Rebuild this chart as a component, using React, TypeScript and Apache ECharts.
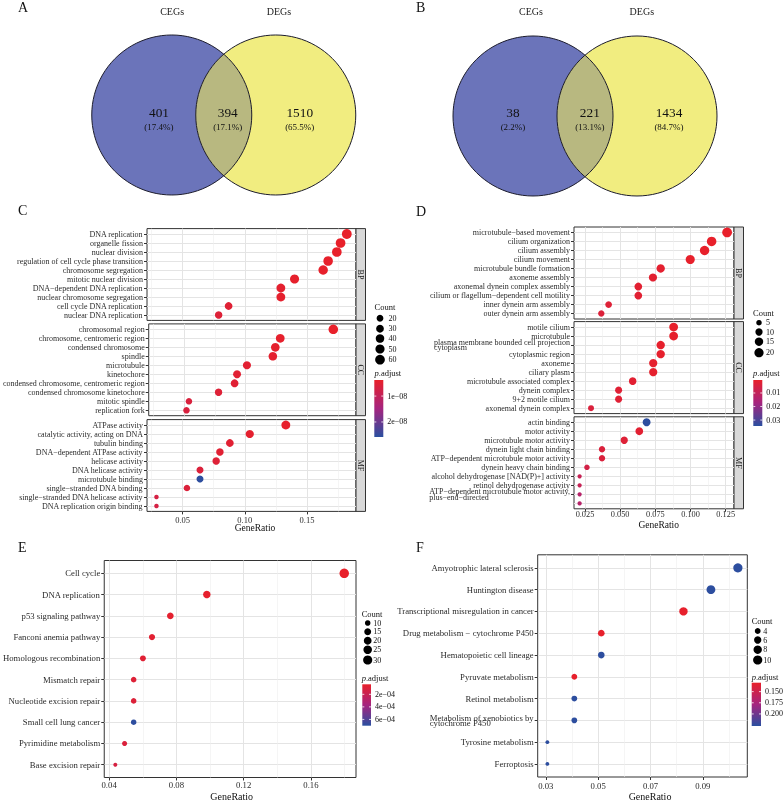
import React, { useEffect, useRef } from "react";
import * as echarts from "echarts";

const M = "\u2212";
const FONT = "Liberation Serif, Times New Roman, serif";

// ---------- Venn data ----------
const vennSetNames = ["CEGs", "DEGs"];
const vennACounts = [401, 394, 1510];
const vennAPercents = ["(17.4%)", "(17.1%)", "(65.5%)"];
const vennBCounts = [38, 221, 1434];
const vennBPercents = ["(2.2%)", "(13.1%)", "(84.7%)"];

// ---------- Panel C (GO, CEGs∩DEGs) ----------
const cBPTerms = ["DNA replication", "organelle fission", "nuclear division", "regulation of cell cycle phase transition", "chromosome segregation", "mitotic nuclear division", `DNA${M}dependent DNA replication`, "nuclear chromosome segregation", "cell cycle DNA replication", "nuclear DNA replication"];
const cBPRatio = [0.182, 0.177, 0.174, 0.167, 0.163, 0.140, 0.129, 0.129, 0.087, 0.079];
const cBPCount = [62, 60, 59, 57, 56, 48, 44, 44, 30, 27];
const cBPPadj = [3.8e-9, 3.8e-9, 3.8e-9, 3.9e-9, 3.9e-9, 4.1e-9, 4.4e-9, 4.3e-9, 5.2e-9, 5.6e-9];

const cCCTerms = ["chromosomal region", "chromosome, centromeric region", "condensed chromosome", "spindle", "microtubule", "kinetochore", "condensed chromosome, centromeric region", "condensed chromosome kinetochore", "mitotic spindle", "replication fork"];
const cCCRatio = [0.171, 0.128, 0.124, 0.122, 0.101, 0.093, 0.091, 0.078, 0.054, 0.052];
const cCCCount = [58, 43, 42, 41, 34, 32, 31, 26, 18, 18];
const cCCPadj = [3.8e-9, 4.2e-9, 4.3e-9, 4.4e-9, 4.8e-9, 5.0e-9, 5.1e-9, 5.5e-9, 6.2e-9, 6.4e-9];

const cMFTerms = ["ATPase activity", "catalytic activity, acting on DNA", "tubulin binding", `DNA${M}dependent ATPase activity`, "helicase activity", "DNA helicase activity", "microtubule binding", `single${M}stranded DNA binding`, `single${M}stranded DNA helicase activity`, "DNA replication origin binding"];
const cMFRatio = [0.133, 0.104, 0.088, 0.080, 0.077, 0.064, 0.064, 0.0535, 0.029, 0.029];
const cMFCount = [45, 35, 30, 27, 26, 22, 22, 18, 10, 10];
const cMFPadj = [4.0e-9, 4.5e-9, 5.0e-9, 5.0e-9, 5.5e-9, 6.0e-9, 2.55e-8, 6.0e-9, 7.0e-9, 7.0e-9];

// ---------- Panel D ----------
const dBPTerms = [`microtubule${M}based movement`, "cilium organization", "cilium assembly", "cilium movement", "microtubule bundle formation", "axoneme assembly", "axonemal dynein complex assembly", `cilium or flagellum${M}dependent cell motility`, "inner dynein arm assembly", "outer dynein arm assembly"];
const dBPRatio = [0.126, 0.115, 0.110, 0.0998, 0.0788, 0.0733, 0.0629, 0.0629, 0.0418, 0.0366];
const dBPCount = [24, 22, 21, 19, 15, 14, 12, 12, 8, 7];
const dBPPadj = [0.0005, 0.0005, 0.0006, 0.0006, 0.0015, 0.0018, 0.0020, 0.0022, 0.0030, 0.0035];

const dCCTerms = ["motile cilium", "microtubule", "plasma membrane bounded cell projection\ncytoplasm", "cytoplasmic region", "axoneme", "ciliary plasm", "microtubule associated complex", "dynein complex", "9+2 motile cilium", "axonemal dynein complex"];
const dCCRatio = [0.088, 0.088, 0.0788, 0.0788, 0.0735, 0.0735, 0.0589, 0.0489, 0.0489, 0.0293];
const dCCCount = [17, 17, 15, 15, 14, 14, 11, 9, 9, 6];
const dCCPadj = [0.0006, 0.0008, 0.0010, 0.0010, 0.0012, 0.0012, 0.0020, 0.0025, 0.0025, 0.0040];

const dMFTerms = ["actin binding", "motor activity", "microtubule motor activity", "dynein light chain binding", `ATP${M}dependent microtubule motor activity`, "dynein heavy chain binding", "alcohol dehydrogenase [NAD(P)+] activity", "retinol dehydrogenase activity", `ATP${M}dependent microtubule motor activity,\nplus${M}end${M}directed`, "dynein intermediate chain binding"];
const dMFRatio = [0.0688, 0.0636, 0.0529, 0.0371, 0.0371, 0.0264, 0.0212, 0.0212, 0.0212, 0.0212];
const dMFCount = [13, 12, 10, 7, 7, 5, 4, 4, 4, 4];
const dMFPadj = [0.0340, 0.0020, 0.0030, 0.0040, 0.0040, 0.0060, 0.0090, 0.0090, 0.0130, 0.0130];

// ---------- Panel E (KEGG) ----------
const eTerms = ["Cell cycle", "DNA replication", "p53 signaling pathway", "Fanconi anemia pathway", "Homologous recombination", "Mismatch repair", "Nucleotide excision repair", "Small cell lung cancer", "Pyrimidine metabolism", "Base excision repair"];
const eRatio = [0.1798, 0.0981, 0.0764, 0.0655, 0.0601, 0.0546, 0.0546, 0.0546, 0.0492, 0.0437];
const eCount = [33, 18, 14, 12, 11, 10, 10, 10, 9, 8];
const ePadj = [4.0e-5, 5.0e-5, 6.0e-5, 7.0e-5, 8.0e-5, 9.0e-5, 1.0e-4, 6.9e-4, 1.1e-4, 1.3e-4];

// ---------- Panel F (KEGG) ----------
const fTerms = ["Amyotrophic lateral sclerosis", "Huntington disease", "Transcriptional misregulation in cancer", `Drug metabolism ${M} cytochrome P450`, "Hematopoietic cell lineage", "Pyruvate metabolism", "Retinol metabolism", "Metabolism of xenobiotics by\ncytochrome P450", "Tyrosine metabolism", "Ferroptosis"];
const fRatio = [0.1034, 0.0931, 0.0826, 0.0512, 0.0512, 0.0409, 0.0409, 0.0409, 0.0306, 0.0306];
const fCount = [10, 9, 8, 5, 5, 4, 4, 4, 3, 3];
const fPadj = [0.226, 0.226, 0.131, 0.131, 0.226, 0.131, 0.226, 0.226, 0.226, 0.226];

// ---------- tick values ----------
const cXTicks = [0.05, 0.1, 0.15];
const cXMinor = [0.025, 0.075, 0.125, 0.175];
const dXTicks = [0.025, 0.05, 0.075, 0.1, 0.125];
const dXMinor = [0.0375, 0.0625, 0.0875, 0.1125];
const eXTicks = [0.04, 0.08, 0.12, 0.16];
const eXMinor = [0.06, 0.1, 0.14, 0.18];
const fXTicks = [0.03, 0.05, 0.07, 0.09];
const fXMinor = [0.04, 0.06, 0.08, 0.1];

const cCountBreaks = [20, 30, 40, 50, 60];
const dCountBreaks = [5, 10, 15, 20];
const eCountBreaks = [10, 15, 20, 25, 30];
const fCountBreaks = [4, 6, 8, 10];

const cPadjBreaks = [1e-8, 2e-8];
const cPadjLabels = [`1e${M}08`, `2e${M}08`];
const dPadjBreaks = [0.01, 0.02, 0.03];
const dPadjLabels = ["0.01", "0.02", "0.03"];
const ePadjBreaks = [2e-4, 4e-4, 6e-4];
const ePadjLabels = [`2e${M}04`, `4e${M}04`, `6e${M}04`];
const fPadjBreaks = [0.15, 0.175, 0.2];
const fPadjLabels = ["0.150", "0.175", "0.200"];

// ---------- styles ----------
const STOPS = ["#E8202A", "#A5247F", "#2A4FA0"];
const VENN_BLUE = "#6B74BA";
const VENN_YELLOW = "#F1ED80";
const VENN_OVERLAP = "#B8B880";
const GRID_MAJOR = "#E4E4E4";
const GRID_MINOR = "#EEEEEE";
const AXIS_TEXT = "#2b2b2b";
const VS = 80; // px per Venn unit
const VENN_R = 1;
const VENN_HALF_D = 0.65;

function sizeScale(cmin: number, cmax: number, dmin: number, dmax: number) {
  return (c: number) => dmin + (dmax - dmin) * Math.sqrt(Math.max(0, (c - cmin) / (cmax - cmin)));
}

function buildOption() {
  const grid: any[] = [];
  const xAxis: any[] = [];
  const yAxis: any[] = [];
  const series: any[] = [];
  const visualMap: any[] = [];
  const graphic: any[] = [];

  const txt = (x: number, y: number, text: string, size: number, o: any = {}) => ({
    type: "text",
    x,
    y,
    rotation: o.rotation || 0,
    silent: true,
    style: {
      text,
      fontSize: size,
      fontFamily: FONT,
      fill: o.fill || "#111",
      align: o.align || "left",
      verticalAlign: "middle",
      rich: o.rich,
    },
  });

  // ---- Venn ----
  function addVenn(cx: number, cy: number, counts: number[], pcts: string[], lab: any) {
    const gi = grid.length;
    grid.push({ left: cx - 2 * VS, top: cy - 1.4 * VS, width: 4 * VS, height: 2.8 * VS, show: false });
    const xi = xAxis.length;
    xAxis.push({ gridIndex: gi, type: "value", min: -2, max: 2, show: false });
    const yi = yAxis.length;
    yAxis.push({ gridIndex: gi, type: "value", min: -1.4, max: 1.4, show: false });
    series.push({
      type: "custom",
      coordinateSystem: "cartesian2d",
      xAxisIndex: xi,
      yAxisIndex: yi,
      silent: true,
      data: [[0, 0]],
      renderItem: (_p: any, api: any) => {
        const c1 = api.coord([-VENN_HALF_D, 0]);
        const c2 = api.coord([VENN_HALF_D, 0]);
        const r = api.size([VENN_R, 0])[0];
        const d = c2[0] - c1[0];
        const xm = (c1[0] + c2[0]) / 2;
        const h = Math.sqrt(r * r - (d * d) / 4);
        const y = c1[1];
        const lens = `M${xm} ${y - h}A${r} ${r} 0 0 1 ${xm} ${y + h}A${r} ${r} 0 0 1 ${xm} ${y - h}Z`;
        const children: any[] = [
          { type: "circle", shape: { cx: c1[0], cy: c1[1], r }, style: { fill: VENN_BLUE } },
          { type: "circle", shape: { cx: c2[0], cy: c2[1], r }, style: { fill: VENN_YELLOW } },
          { type: "path", shape: { pathData: lens }, style: { fill: VENN_OVERLAP } },
          { type: "circle", shape: { cx: c1[0], cy: c1[1], r }, style: { fill: "none", stroke: "#1c1c2c", lineWidth: 1 } },
          { type: "circle", shape: { cx: c2[0], cy: c2[1], r }, style: { fill: "none", stroke: "#1c1c2c", lineWidth: 1 } },
        ];
        counts.forEach((n, i) => {
          const p = api.coord([lab.numX[i], lab.numY]);
          const q = api.coord([lab.numX[i], lab.pctY]);
          children.push({ type: "text", x: p[0], y: p[1], style: { text: String(n), fontSize: 13.3, fontFamily: FONT, fill: "#111", align: "center", verticalAlign: "middle" } });
          children.push({ type: "text", x: q[0], y: q[1], style: { text: pcts[i], fontSize: 9, fontFamily: FONT, fill: "#111", align: "center", verticalAlign: "middle" } });
        });
        vennSetNames.forEach((s, i) => {
          const p = api.coord([lab.setX[i], lab.setY]);
          children.push({ type: "text", x: p[0], y: p[1], style: { text: s, fontSize: 10, fontFamily: FONT, fill: "#222", align: "center", verticalAlign: "middle" } });
        });
        return { type: "group", children };
      },
    });
  }

  addVenn(223.75, 115, vennACounts, vennAPercents, { numX: [-0.81, 0.05, 0.95], numY: 0.03, pctY: -0.15, setX: [-0.645, 0.69], setY: 1.3 });
  addVenn(585, 116, vennBCounts, vennBPercents, { numX: [-0.9, 0.06, 1.05], numY: 0.04, pctY: -0.14, setX: [-0.675, 0.71], setY: 1.31 });

  // ---- dot panels ----
  function addDot(o: any) {
    const gi = grid.length;
    grid.push({ left: o.left, top: o.top, width: o.width, height: o.height, show: true, borderColor: "#333333", borderWidth: 1, backgroundColor: "transparent" });
    const xi = xAxis.length;
    xAxis.push({
      gridIndex: gi,
      type: "value",
      min: o.xMin,
      max: o.xMax,
      position: "bottom",
      axisLine: { show: false, onZero: false },
      axisTick: { show: o.showX, customValues: o.ticks, length: 3, lineStyle: { color: "#333", width: 1 } },
      axisLabel: {
        show: o.showX,
        customValues: o.ticks,
        formatter: (v: number) => v.toFixed(o.decimals),
        fontFamily: FONT,
        fontSize: o.tickSize,
        color: AXIS_TEXT,
        margin: o.xMargin,
      },
      splitLine: { show: true, lineStyle: { color: GRID_MAJOR, width: 1 } },
    });
    xAxis.push({
      gridIndex: gi,
      type: "value",
      min: o.xMin,
      max: o.xMax,
      position: "bottom",
      offset: 0,
      axisLine: { show: false, onZero: false },
      axisTick: { show: false, customValues: o.minor },
      axisLabel: { show: false, customValues: o.minor },
      splitLine: { show: true, lineStyle: { color: GRID_MINOR, width: 0.6 } },
    });
    const yi = yAxis.length;
    const idx = o.terms.map((_t: string, i: number) => i);
    yAxis.push({
      gridIndex: gi,
      type: "value",
      min: -0.6,
      max: o.terms.length - 0.4,
      inverse: true,
      axisLine: { show: false, onZero: false },
      axisTick: { show: true, customValues: idx, length: 3, lineStyle: { color: "#333", width: 1 } },
      axisLabel: {
        customValues: idx,
        formatter: (v: number) => {
          const t: string = o.terms[Math.round(v)] || "";
          return t.split("\n").map((s) => `{l|${s}}`).join("\n");
        },
        fontFamily: FONT,
        fontSize: o.labelSize,
        color: AXIS_TEXT,
        margin: 4,
        rich: { l: { align: "left", fontFamily: FONT, fontSize: o.labelSize, color: AXIS_TEXT, lineHeight: 5.7 } },
      },
      splitLine: { show: true, lineStyle: { color: GRID_MAJOR, width: 1 } },
    });
    const si = series.length;
    series.push({
      type: "scatter",
      xAxisIndex: xi,
      yAxisIndex: yi,
      silent: true,
      z: 3,
      data: o.terms.map((_t: string, i: number) => [o.ratio[i], i, o.count[i], o.padj[i]]),
      symbolSize: (val: number[]) => o.sizeFn(val[2]),
      itemStyle: { opacity: 1 },
    });
    if (o.strip) {
      graphic.push({ type: "rect", silent: true, shape: { x: o.left + o.width, y: o.top, width: 9.5, height: o.height }, style: { fill: "#D9D9D9", stroke: "#333", lineWidth: 1 } });
      graphic.push(txt(o.left + o.width + 4.75, o.top + o.height / 2, o.strip, 8, { align: "center", rotation: -Math.PI / 2, fill: "#1a1a1a" }));
    }
    return si;
  }

  function addLegend(o: any) {
    graphic.push(txt(o.x, o.countY, "Count", 8.5));
    o.breaks.forEach((b: number, i: number) => {
      graphic.push({ type: "circle", silent: true, shape: { cx: o.dotX, cy: o.dotYs[i], r: o.sizeFn(b) / 2 }, style: { fill: "#000" } });
      graphic.push(txt(o.labX, o.dotYs[i], String(b), 8));
    });
    graphic.push(txt(o.x, o.pY, "{i|p}{n|.adjust}", 8.5, { rich: { i: { fontStyle: "italic", fontSize: 8.5, fontFamily: FONT, fill: "#111" }, n: { fontSize: 8.5, fontFamily: FONT, fill: "#111" } } }));
    graphic.push({
      type: "rect",
      silent: true,
      shape: { x: o.bar[0], y: o.bar[1], width: o.bar[2], height: o.bar[3] },
      style: {
        fill: {
          type: "linear", x: 0, y: 0, x2: 0, y2: 1,
          colorStops: [
            { offset: 0, color: STOPS[0] },
            { offset: 0.5, color: STOPS[1] },
            { offset: 1, color: STOPS[2] },
          ],
        },
      },
    });
    o.pBreaks.forEach((b: number, i: number) => {
      const y = o.bar[1] + ((b - o.pMin) / (o.pMax - o.pMin)) * o.bar[3];
      graphic.push({ type: "line", silent: true, shape: { x1: o.bar[0], y1: y, x2: o.bar[0] + 2, y2: y }, style: { stroke: "#fff", lineWidth: 0.8 } });
      graphic.push({ type: "line", silent: true, shape: { x1: o.bar[0] + o.bar[2] - 2, y1: y, x2: o.bar[0] + o.bar[2], y2: y }, style: { stroke: "#fff", lineWidth: 0.8 } });
      graphic.push(txt(o.bar[0] + o.bar[2] + 4, y, o.pLabels[i], 8));
    });
  }

  // Panel C
  const cSize = sizeScale(10, 62, 4.5, 9.8);
  const cOpts = { left: 147, width: 209, height: 91.8, xMin: 0.0214, xMax: 0.1894, ticks: cXTicks, minor: cXMinor, decimals: 2, labelSize: 8, tickSize: 8.5, xMargin: 4.3, sizeFn: cSize };
  const c1 = addDot({ ...cOpts, top: 228.6, terms: cBPTerms, ratio: cBPRatio, count: cBPCount, padj: cBPPadj, showX: false, strip: "BP" });
  const c2 = addDot({ ...cOpts, top: 323.9, terms: cCCTerms, ratio: cCCRatio, count: cCCCount, padj: cCCPadj, showX: false, strip: "CC" });
  const c3 = addDot({ ...cOpts, top: 419.6, terms: cMFTerms, ratio: cMFRatio, count: cMFCount, padj: cMFPadj, showX: true, strip: "MF" });
  const cPMin = 3.8e-9, cPMax = 2.58e-8;
  visualMap.push({ type: "continuous", show: false, min: cPMin, max: cPMax, dimension: 3, seriesIndex: [c1, c2, c3], inRange: { color: STOPS } });
  addLegend({ x: 374.5, countY: 307.3, breaks: cCountBreaks, dotX: 380, dotYs: [318.3, 328.7, 338.5, 349, 359.7], labX: 388.5, sizeFn: cSize, pY: 373, bar: [374.3, 380, 9, 57], pMin: cPMin, pMax: cPMax, pBreaks: cPadjBreaks, pLabels: cPadjLabels });
  graphic.push(txt(255, 528.3, "GeneRatio", 9.5, { align: "center" }));

  // Panel D
  const dSize = sizeScale(4, 24, 4.3, 9.8);
  const dOpts = { left: 574, width: 160, height: 92, xMin: 0.0172, xMax: 0.1309, ticks: dXTicks, minor: dXMinor, decimals: 3, labelSize: 8, tickSize: 8.3, xMargin: 2, sizeFn: dSize };
  const d1 = addDot({ ...dOpts, top: 227, terms: dBPTerms, ratio: dBPRatio, count: dBPCount, padj: dBPPadj, showX: false, strip: "BP" });
  const d2 = addDot({ ...dOpts, top: 321.6, terms: dCCTerms, ratio: dCCRatio, count: dCCCount, padj: dCCPadj, showX: false, strip: "CC" });
  const d3 = addDot({ ...dOpts, top: 416.8, terms: dMFTerms, ratio: dMFRatio, count: dMFCount, padj: dMFPadj, showX: true, strip: "MF" });
  const dPMin = 0.0004, dPMax = 0.0344;
  visualMap.push({ type: "continuous", show: false, min: dPMin, max: dPMax, dimension: 3, seriesIndex: [d1, d2, d3], inRange: { color: STOPS } });
  addLegend({ x: 753, countY: 312.7, breaks: dCountBreaks, dotX: 759, dotYs: [322.7, 332, 341.7, 352.7], labX: 766, sizeFn: dSize, pY: 372.7, bar: [753.3, 380, 9, 46], pMin: dPMin, pMax: dPMax, pBreaks: dPadjBreaks, pLabels: dPadjLabels });
  graphic.push(txt(658.7, 525, "GeneRatio", 9.5, { align: "center" }));

  // Panel E
  const eSize = sizeScale(8, 33, 4, 9.5);
  const e1 = addDot({ left: 99.3, width: 256.7, top: 560.5, height: 217, xMin: 0.0371, xMax: 0.1868, ticks: eXTicks, minor: eXMinor, decimals: 2, labelSize: 8.7, tickSize: 8.7, xMargin: 3.2, sizeFn: eSize, terms: eTerms, ratio: eRatio, count: eCount, padj: ePadj, showX: true });
  const ePMin = 4e-5, ePMax = 7e-4;
  visualMap.push({ type: "continuous", show: false, min: ePMin, max: ePMax, dimension: 3, seriesIndex: [e1], inRange: { color: STOPS } });
  addLegend({ x: 361.7, countY: 614.3, breaks: eCountBreaks, dotX: 367.7, dotYs: [623, 631.7, 640.7, 649.7, 660], labX: 373.3, sizeFn: eSize, pY: 678.3, bar: [362.3, 684.3, 8.7, 41.4], pMin: ePMin, pMax: ePMax, pBreaks: ePadjBreaks, pLabels: ePadjLabels });
  graphic.push(txt(231.7, 796.2, "GeneRatio", 10, { align: "center" }));

  // Panel F
  const fSize = sizeScale(3, 10, 3.8, 9.2);
  const f1 = addDot({ left: 537.7, width: 209.6, top: 554.8, height: 222.2, xMin: 0.0269, xMax: 0.107, ticks: fXTicks, minor: fXMinor, decimals: 2, labelSize: 8.7, tickSize: 8.7, xMargin: 4.5, sizeFn: fSize, terms: fTerms, ratio: fRatio, count: fCount, padj: fPadj, showX: true });
  const fPMin = 0.13, fPMax = 0.227;
  visualMap.push({ type: "continuous", show: false, min: fPMin, max: fPMax, dimension: 3, seriesIndex: [f1], inRange: { color: STOPS } });
  addLegend({ x: 751.7, countY: 621, breaks: fCountBreaks, dotX: 757.7, dotYs: [631, 640, 649.7, 660], labX: 763.3, sizeFn: fSize, pY: 676.7, bar: [751.7, 682.7, 9.3, 43.3], pMin: fPMin, pMax: fPMax, pBreaks: fPadjBreaks, pLabels: fPadjLabels });
  graphic.push(txt(650, 796.2, "GeneRatio", 10, { align: "center" }));

  // panel letters
  [["A", 18, 7], ["B", 416, 7], ["C", 18, 210.7], ["D", 416, 211.7], ["E", 18, 547.5], ["F", 416, 547.5]].forEach((l: any) => {
    graphic.push(txt(l[1], l[2], l[0], 14));
  });

  return {
    animation: false,
    backgroundColor: "transparent",
    grid,
    xAxis,
    yAxis,
    series,
    visualMap,
    graphic,
  };
}

export default function App() {
  const ref = useRef<HTMLDivElement>(null);
  useEffect(() => {
    const chart = echarts.init(ref.current as HTMLDivElement, null, { renderer: "svg" });
    chart.setOption(buildOption() as any);
    return () => chart.dispose();
  }, []);
  return (
    <div
      ref={ref}
      style={{ position: "absolute", left: 0, top: 0, width: 783, height: 801, willChange: "transform", transform: "translateZ(0)" }}
    />
  );
}
